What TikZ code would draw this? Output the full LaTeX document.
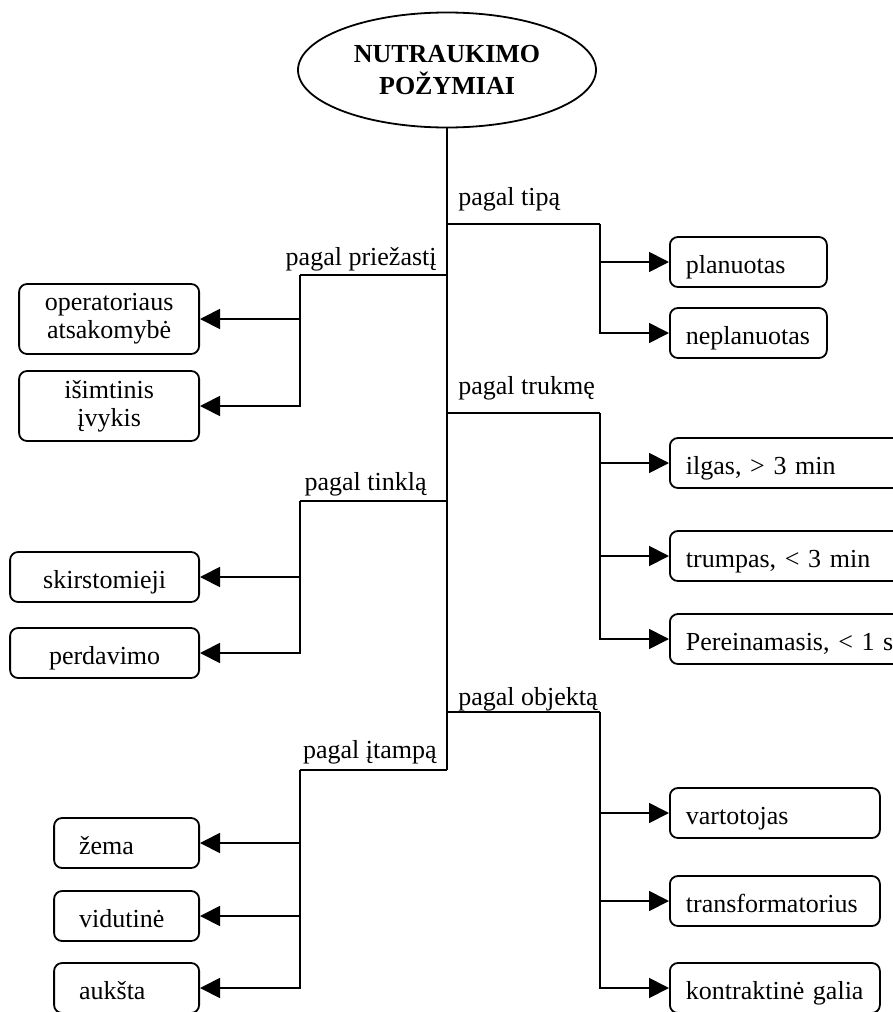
\documentclass[tikz,border=0pt]{standalone}
\usepackage{fontspec}
\setmainfont{Liberation Serif}
\usetikzlibrary{arrows.meta,shapes.geometric}

\begin{document}
\begin{tikzpicture}[
		x=0.5pt, y=-0.5pt,
		txt/.style={font=\fontsize{13}{14}\selectfont},
		box/.style={txt, draw, rounded corners=4pt, line width=0.9pt, inner ysep=0pt, minimum height=25pt},
		low/.style={text height=13pt, text depth=2pt},
		rbox/.style={box, low, anchor=west, align=left, inner xsep=8pt, text width=#1},
		lbox/.style={box, anchor=east, align=center, inner xsep=0pt, text width=#1},
		lboxl/.style={box, low, anchor=east, align=left, inner xsep=12.5pt, text width=#1},
		lbl/.style={txt, inner sep=0pt},
		link/.style={line width=0.9pt},
		arr/.style={link, -{Triangle[length=10pt, width=10pt]}},
	]
	\path[use as bounding box] (0,0) rectangle (893,1012);
	\clip (0,0) rectangle (893,1012);

	\node[ellipse, draw, line width=0.9pt, minimum width=149pt, minimum height=57.5pt, align=center,
		font=\fontsize{13}{16}\selectfont\bfseries] (root) at (447,70) {NUTRAUKIMO\\POŽYMIAI};
	\coordinate (trunkEnd) at (447,770);
	\draw[link] (root.south) -- (trunkEnd);

	\coordinate (tipJ) at (447,224);
	\coordinate (tipB) at (600,224);
	\node[lbl, anchor=base west] (tipL) at (458,205) {pagal tipą};
	\node[rbox=62.5pt] (plan) at (669,262) {planuotas};
	\node[rbox=62.5pt] (neplan) at (669,333) {neplanuotas};
	\draw[link] (tipJ) -- (tipB);
	\draw[arr] (tipB) |- (plan.west);
	\draw[arr] (tipB) |- (neplan.west);

	\coordinate (priezJ) at (447,275);
	\coordinate (priezB) at (300,275);
	\node[lbl, anchor=base east] (priezL) at (437,265) {pagal priežastį};
	\node[lbox=90pt, minimum height=35pt] (oper) at (200,319) {operatoriaus\\atsakomybė};
	\node[lbox=90pt, minimum height=35pt] (isimt) at (200,406) {išimtinis\\įvykis};
	\draw[link] (priezJ) -- (priezB);
	\draw[arr] (priezB) |- (oper.east);
	\draw[arr] (priezB) |- (isimt.east);

	\coordinate (trukJ) at (447,413);
	\coordinate (trukB) at (600,413);
	\node[lbl, anchor=base west] (trukL) at (458,394) {pagal trukmę};
	\node[rbox=130pt] (ilgas) at (669,463) {ilgas, > 3 min};
	\node[rbox=130pt] (trump) at (669,556) {trumpas, < 3 min};
	\node[rbox=130pt] (perein) at (669,639) {Pereinamasis, < 1 s};
	\draw[link] (trukJ) -- (trukB);
	\draw[arr] (trukB) |- (ilgas.west);
	\draw[arr] (trukB) |- (trump.west);
	\draw[arr] (trukB) |- (perein.west);

	\coordinate (tinklJ) at (447,501);
	\coordinate (tinklB) at (300,501);
	\node[lbl, anchor=base east] (tinklL) at (427,490) {pagal tinklą};
	\node[lbox=94.5pt, low] (skirst) at (200,577) {skirstomieji};
	\node[lbox=94.5pt, low] (perd) at (200,653) {perdavimo};
	\draw[link] (tinklJ) -- (tinklB);
	\draw[arr] (tinklB) |- (skirst.east);
	\draw[arr] (tinklB) |- (perd.east);

	\coordinate (objJ) at (447,712);
	\coordinate (objB) at (600,712);
	\node[lbl, anchor=base west] (objL) at (458,705) {pagal objektą};
	\node[rbox=89pt] (vart) at (669,813) {vartotojas};
	\node[rbox=89pt] (transf) at (669,901) {transformatorius};
	\node[rbox=89pt] (kontr) at (669,988) {kontraktinė galia};
	\draw[link] (objJ) -- (objB);
	\draw[arr] (objB) |- (vart.west);
	\draw[arr] (objB) |- (transf.west);
	\draw[arr] (objB) |- (kontr.west);

	\coordinate (itampB) at (300,770);
	\node[lbl, anchor=base east] (itampL) at (437,758) {pagal įtampą};
	\node[lboxl=47.5pt] (zema) at (200,843) {žema};
	\node[lboxl=47.5pt] (vidut) at (200,916) {vidutinė};
	\node[lboxl=47.5pt] (auksta) at (200,988) {aukšta};
	\draw[link] (trunkEnd) -- (itampB);
	\draw[arr] (itampB) |- (zema.east);
	\draw[arr] (itampB) |- (vidut.east);
	\draw[arr] (itampB) |- (auksta.east);
\end{tikzpicture}
\end{document}
